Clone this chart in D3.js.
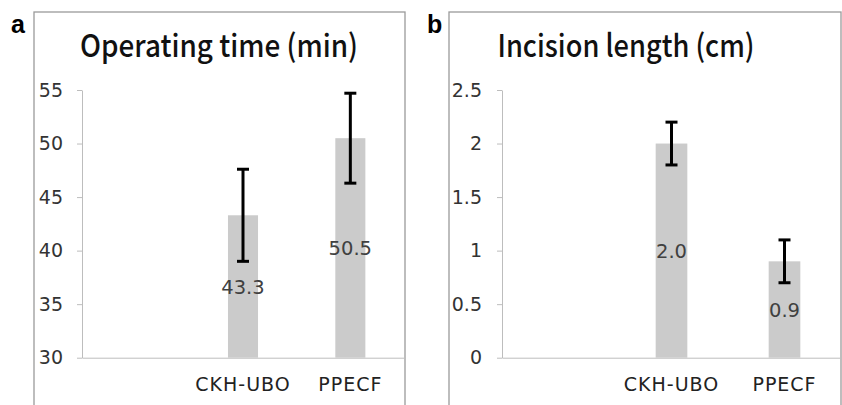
<!DOCTYPE html>
<html>
<head>
<meta charset="utf-8">
<script src="https://cdn.jsdelivr.net/npm/d3@7"></script>
<style>
  body { margin: 0; background: #fff; }
  svg { display: block; }
</style>
</head>
<body>
<div class="chart"></div>
<script>
// categories (first slot is empty, as in the original)
var categories = ["", "CKH-UBO", "PPECF"];

// panel a: operating time (min)
var timeValues = [null, 43.3, 50.5];
var timeErrors = [null, 4.3, 4.2];
var timeTicks = [30, 35, 40, 45, 50, 55];

// panel b: incision length (cm)
var lengthValues = [null, 2.0, 0.9];
var lengthErrors = [null, 0.2, 0.2];
var lengthTicks = [0, 0.5, 1, 1.5, 2, 2.5];

var svg = d3.select(".chart").append("svg")
  .attr("width", 842).attr("height", 405);

var lightFont = "DejaVu Sans, Liberation Sans, sans-serif";

function drawPanel(p) {
  var g = svg.append("g");

  // frame around the panel
  g.append("rect")
    .attr("x", p.frame[0]).attr("y", 12)
    .attr("width", p.frame[1] - p.frame[0]).attr("height", 420)
    .attr("fill", "none").attr("stroke", "#9a9a9a").attr("stroke-width", 1.3);

  // panel letter
  g.append("text")
    .attr("x", p.letterX).attr("y", 33)
    .style("font-family", "Liberation Sans, Arial, sans-serif")
    .style("font-weight", "bold").style("font-size", "25px")
    .text(p.letter);

  // title
  g.append("text")
    .attr("x", p.titleX).attr("y", 57)
    .attr("text-anchor", "middle")
    .attr("textLength", p.titleW).attr("lengthAdjust", "spacingAndGlyphs")
    .style("font-family", "Noto Sans CJK SC, Noto Sans, sans-serif")
    .style("font-weight", 500).style("font-size", "31px")
    .style("fill", "#111")
    .text(p.title);

  var x = d3.scaleBand()
    .domain(categories)
    .range([p.left, p.right])
    .paddingInner(0.72).paddingOuter(0.36);

  var y = d3.scaleLinear()
    .domain([p.ticks[0], p.ticks[p.ticks.length - 1]])
    .range([357.7, 90]);

  // y axis
  var yAxis = d3.axisLeft(y).tickValues(p.ticks)
    .tickSize(5).tickSizeOuter(0).tickPadding(p.tickPad)
    .tickFormat(function(d) { return String(d); });
  var ya = g.append("g").attr("transform", "translate(" + p.left + ",0)").call(yAxis);
  ya.selectAll("path, line").attr("stroke", "#bdbdbd");
  ya.selectAll("text")
    .style("font-family", lightFont)
    .style("font-size", "19px").style("fill", "#333");

  // x axis
  var xAxis = d3.axisBottom(x).tickSize(0).tickSizeOuter(0).tickPadding(20);
  var xa = g.append("g").attr("transform", "translate(0," + y.range()[0] + ")").call(xAxis);
  xa.select(".domain").attr("stroke", "#bdbdbd");
  xa.selectAll("text")
    .style("font-family", lightFont)
    .style("font-size", "19px").style("letter-spacing", "1px").style("fill", "#222");

  var rows = categories.map(function(c, i) {
    return {cat: c, v: p.values[i], e: p.errors[i]};
  }).filter(function(d) { return d.v != null; });

  var base = y.domain()[0];
  var cx = function(d) { return x(d.cat) + x.bandwidth() / 2; };

  // bars
  g.selectAll(".bar").data(rows).enter().append("rect")
    .attr("class", "bar")
    .attr("x", function(d) { return x(d.cat); })
    .attr("width", x.bandwidth())
    .attr("y", function(d) { return y(d.v); })
    .attr("height", function(d) { return y(base) - y(d.v); })
    .attr("fill", "#cbcbcb");

  // value labels, centred in the bar
  g.selectAll(".val").data(rows).enter().append("text")
    .attr("x", cx)
    .attr("y", function(d) { return (y(d.v) + y(base)) / 2; })
    .attr("dy", "0.36em")
    .attr("text-anchor", "middle")
    .style("font-family", lightFont)
    .style("font-size", "19.5px").style("fill", "#404040")
    .text(function(d) { return d3.format(".1f")(d.v); });

  // error bars
  var err = g.selectAll(".err").data(rows).enter().append("g")
    .attr("stroke", "#000").attr("stroke-width", 3);
  err.append("line")
    .attr("x1", cx).attr("x2", cx)
    .attr("y1", function(d) { return y(d.v + d.e); })
    .attr("y2", function(d) { return y(d.v - d.e); });
  err.append("line")
    .attr("x1", function(d) { return cx(d) - 6; }).attr("x2", function(d) { return cx(d) + 6; })
    .attr("y1", function(d) { return y(d.v + d.e); })
    .attr("y2", function(d) { return y(d.v + d.e); });
  err.append("line")
    .attr("x1", function(d) { return cx(d) - 6; }).attr("x2", function(d) { return cx(d) + 6; })
    .attr("y1", function(d) { return y(d.v - d.e); })
    .attr("y2", function(d) { return y(d.v - d.e); });
}

drawPanel({
  letter: "a", letterX: 11, frame: [34, 405],
  title: "Operating time (min)", titleX: 219, titleW: 278,
  left: 82, right: 404, tickPad: 14,
  ticks: timeTicks, values: timeValues, errors: timeErrors
});

drawPanel({
  letter: "b", letterX: 427, frame: [449, 841],
  title: "Incision length (cm)", titleX: 626, titleW: 257,
  left: 502, right: 841, tickPad: 15,
  ticks: lengthTicks, values: lengthValues, errors: lengthErrors
});
</script>
</body>
</html>
